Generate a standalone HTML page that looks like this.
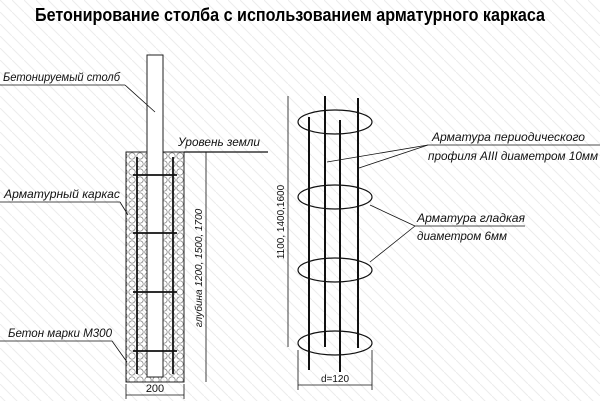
<!DOCTYPE html><html><head><style>body{margin:0;background:#fff}svg{display:block}</style></head><body>
<svg width="600" height="401" viewBox="0 0 600 401" xmlns="http://www.w3.org/2000/svg" font-family="Liberation Sans, DejaVu Sans, sans-serif">
<defs><pattern id="h" width="12" height="12" patternUnits="userSpaceOnUse"><path d="M0 0L12 12" stroke="#ececec" stroke-width="1"/></pattern>
<pattern id="c" width="8" height="8" patternUnits="userSpaceOnUse"><circle cx="4" cy="4" r="3.2" fill="none" stroke="#777" stroke-width="0.7"/></pattern></defs>
<rect width="600" height="401" fill="url(#h)"/>
<text x="35" y="21" font-size="18" font-weight="bold" textLength="510" lengthAdjust="spacingAndGlyphs">Бетонирование столба с использованием арматурного каркаса</text>
<g stroke="#111" fill="none">
<rect x="126" y="152" width="58" height="230" fill="url(#c)" stroke="#222"/>
<rect x="147" y="55" width="16" height="322" fill="#fff" stroke="#222"/>
<line x1="184" y1="152" x2="268" y2="152" stroke-width="1.3"/>
<g stroke-width="1.8"><line x1="137" y1="157" x2="137" y2="374"/><line x1="173" y1="157" x2="173" y2="374"/>
<line x1="133" y1="175" x2="177" y2="175"/><line x1="133" y1="233" x2="177" y2="233"/><line x1="133" y1="292" x2="177" y2="292"/><line x1="133" y1="351" x2="177" y2="351"/></g>
<g stroke-width="0.8"><line x1="206" y1="152" x2="206" y2="382"/><line x1="126" y1="395" x2="184" y2="395"/><line x1="126" y1="384" x2="126" y2="399"/><line x1="184" y1="384" x2="184" y2="399"/>
<line x1="0" y1="85" x2="125" y2="85"/><line x1="125" y1="85" x2="155" y2="112"/>
<line x1="0" y1="202" x2="120" y2="202"/><line x1="120" y1="202" x2="128" y2="215"/>
<line x1="0" y1="341" x2="112" y2="341"/><line x1="112" y1="341" x2="127" y2="362"/>
<line x1="288" y1="96" x2="288" y2="347"/><line x1="298" y1="385" x2="372" y2="385"/><line x1="298" y1="350" x2="298" y2="390"/><line x1="372" y1="350" x2="372" y2="390"/>
<line x1="428" y1="145" x2="600" y2="145"/><line x1="428" y1="145" x2="327" y2="162"/><line x1="428" y1="145" x2="359" y2="168"/>
<line x1="415" y1="226" x2="525" y2="226"/><line x1="415" y1="226" x2="370" y2="205"/><line x1="415" y1="226" x2="370" y2="262"/></g>
<g stroke-width="1.2"><ellipse cx="335" cy="122" rx="37" ry="12"/><ellipse cx="335" cy="197" rx="37" ry="12"/><ellipse cx="335" cy="270" rx="37" ry="12"/><ellipse cx="335" cy="343" rx="37" ry="12"/></g>
<g stroke-width="2"><line x1="325" y1="96" x2="325" y2="347"/><line x1="358" y1="98" x2="358" y2="348"/><line x1="309" y1="117" x2="309" y2="370"/><line x1="340" y1="120" x2="340" y2="372"/></g>
</g>
<g font-size="12" font-style="italic" fill="#111">
<text x="3" y="81" textLength="117" lengthAdjust="spacingAndGlyphs">Бетонируемый столб</text>
<text x="178" y="146" textLength="82" lengthAdjust="spacingAndGlyphs">Уровень земли</text>
<text x="4" y="198" textLength="116" lengthAdjust="spacingAndGlyphs">Арматурный каркас</text>
<text x="8" y="337" textLength="104" lengthAdjust="spacingAndGlyphs">Бетон марки М300</text>
<text x="432" y="141" textLength="153" lengthAdjust="spacingAndGlyphs">Арматура периодического</text>
<text x="428" y="160" textLength="170" lengthAdjust="spacingAndGlyphs">профиля AIII диаметром 10мм</text>
<text x="417" y="222" textLength="108" lengthAdjust="spacingAndGlyphs">Арматура гладкая</text>
<text x="417" y="240" textLength="90" lengthAdjust="spacingAndGlyphs">диаметром 6мм</text>
</g>
<g font-size="10" fill="#111">
<text x="155" y="392" font-size="11" text-anchor="middle">200</text>
<text x="335" y="382" text-anchor="middle">d=120</text>
<text transform="translate(202,268) rotate(-90)" text-anchor="middle" font-style="italic">глубина 1200, 1500, 1700</text>
<text transform="translate(284,222) rotate(-90)" text-anchor="middle">1100, 1400,1600</text>
</g>
</svg></body></html>
